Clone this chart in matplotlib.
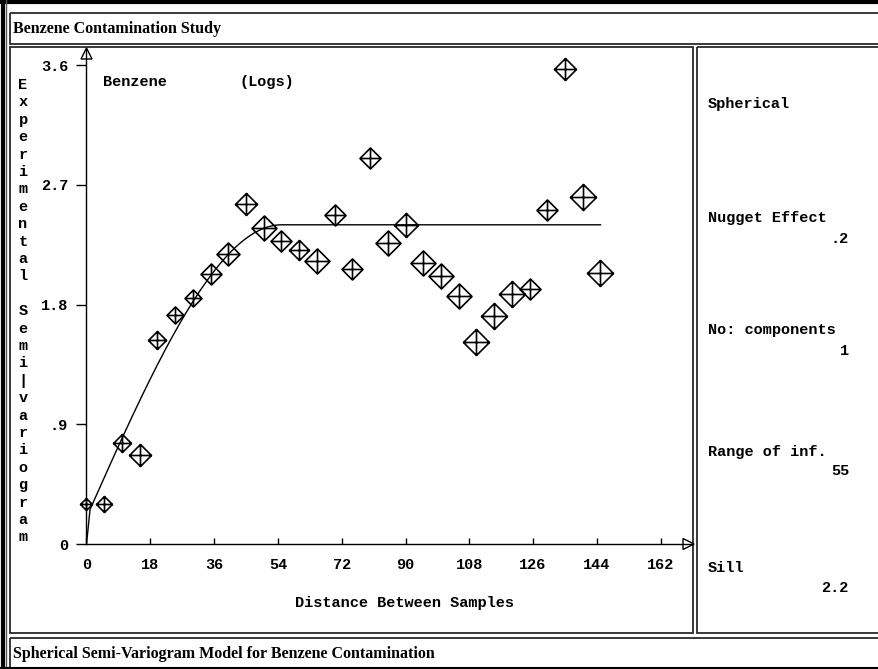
import numpy as np
import matplotlib
matplotlib.use("Agg")
import matplotlib.pyplot as plt
from matplotlib.path import Path
from matplotlib.patches import Rectangle, Polygon

# ---------------- data ----------------
lags = [0, 5, 10, 15, 20, 25, 30, 35, 40, 45, 50, 55, 60, 65, 70, 75,
        80, 85, 90, 95, 100, 105, 110, 115, 120, 125, 130, 135, 140, 145]
gamma = [0.30, 0.30, 0.76, 0.67, 1.535, 1.72, 1.85, 2.03, 2.18, 2.557,
         2.377, 2.28, 2.21, 2.13, 2.476, 2.065, 2.90, 2.263, 2.395, 2.116,
         2.017, 1.865, 1.52, 1.718, 1.882, 1.915, 2.509, 3.569, 2.608, 2.034]
# marker heights (pixels) as seen on the chart
marker_px = [12, 16, 18, 22, 18, 17, 17, 21, 23, 22, 25, 21, 20, 25, 21,
             21, 21, 25, 24, 25, 25, 25, 26, 26, 26, 21, 21, 22, 26, 26]

xticks = [0, 18, 36, 54, 72, 90, 108, 126, 144, 162]
yticks = [0, 0.9, 1.8, 2.7, 3.6]
ytick_labels = ["0", ".9", "1.8", "2.7", "3.6"]

model_name = "Spherical"
nugget = 0.2
sill = 2.2
range_inf = 55
n_components = 1
model_max_lag = 145

# spherical model defined by the displayed parameters
h = np.arange(0, model_max_lag + 1, 1.0)
hr = np.minimum(h / range_inf, 1.0)
model = nugget + sill * (1.5 * hr - 0.5 * hr ** 3)
model[0] = 0.0

# ---------------- figure ----------------
W, H = 879, 669
fig = plt.figure(figsize=(W / 100, H / 100), dpi=100)
fig.patch.set_facecolor("white")

bg = fig.add_axes([0, 0, 1, 1])
bg.set_xlim(0, W)
bg.set_ylim(H, 0)
bg.axis("off")

mono = dict(family="Liberation Mono", weight="bold", color="black")
serif = dict(family="Liberation Serif", weight="bold", color="black")
edge = "#2a2a2a"

# outer borders
bg.plot([0, W], [1.5, 1.5], color="black", lw=3.0, solid_capstyle="butt")
bg.plot([3, 3], [0, H], color="black", lw=3.0, solid_capstyle="butt")
bg.plot([6.5, 6.5], [0, H], color="#555555", lw=1.0)
bg.plot([0, W], [668, 668], color="black", lw=1.5)

# boxes
for (x0, y0, x1, y1) in [(10, 13, W + 2, 44), (10, 47, 693, 633),
                         (697, 47, W + 2, 633), (10, 638, W + 2, 668)]:
    bg.add_patch(Rectangle((x0, y0), x1 - x0, y1 - y0, fill=False,
                           edgecolor=edge, lw=1.3))

bg.text(13, 29, "Benzene Contamination Study", fontsize=11.5,
        ha="left", va="center", **serif)
bg.text(13, 654, "Spherical Semi-Variogram Model for Benzene Contamination",
        fontsize=11.5, ha="left", va="center", **serif)

# stacked y label
ylabel = "Experimental Semi|variogram"
for i, ch in enumerate(ylabel):
    if ch != " ":
        bg.text(23, 85 + i * 17.4, ch, fontsize=11, ha="center",
                va="center", **mono)

# top labels inside plot
bg.text(103, 82, "Benzene", fontsize=11, ha="left", va="center", **mono)
bg.text(240, 82, "(Logs)", fontsize=11, ha="left", va="center", **mono)
bg.text(405, 603, "Distance Between Samples", fontsize=11,
        ha="center", va="center", **mono)

# right panel
rx, vx = 708, 849
bg.text(rx, 104, model_name, fontsize=11, ha="left", va="center", **mono)
bg.text(rx, 218, "Nugget Effect", fontsize=11, ha="left", va="center", **mono)
bg.text(vx, 239, f"{nugget}".lstrip("0"), fontsize=11, ha="right",
        va="center", **mono)
bg.text(rx, 330, "No: components", fontsize=11, ha="left", va="center", **mono)
bg.text(vx, 351, f"{n_components}", fontsize=11, ha="right", va="center",
        **mono)
bg.text(rx, 452, "Range of inf.", fontsize=11, ha="left", va="center", **mono)
bg.text(vx, 471, f"{range_inf}", fontsize=11, ha="right", va="center", **mono)
bg.text(rx, 568, "Sill", fontsize=11, ha="left", va="center", **mono)
bg.text(vx, 588, f"{sill}", fontsize=11, ha="right", va="center", **mono)

# ---------------- main axes ----------------
px_per_x = (660.7 - 86.5) / 162.0
px_per_y = (544 - 424.3) / 0.9
ax_l, ax_r, ax_b, ax_t = 86.5, 693, 544, 49
ax = fig.add_axes([ax_l / W, (H - ax_b) / H, (ax_r - ax_l) / W,
                   (ax_b - ax_t) / H])
ax.set_facecolor("none")
ax.set_xlim(0, (ax_r - ax_l) / px_per_x)
ax.set_ylim(0, (ax_b - ax_t) / px_per_y)
for s in ["top", "right"]:
    ax.spines[s].set_visible(False)
for s in ["left", "bottom"]:
    ax.spines[s].set_linewidth(1.0)
    ax.spines[s].set_color("black")

ax.set_xticks(xticks)
ax.set_xticklabels([str(t) for t in xticks])
ax.set_yticks(yticks)
ax.set_yticklabels(ytick_labels)
ax.tick_params(axis="x", direction="in", length=4.5, width=1.0, pad=10)
ax.tick_params(axis="y", direction="out", length=7.2, width=1.0, pad=6)
for lab in ax.get_xticklabels() + ax.get_yticklabels():
    lab.set_fontfamily("Liberation Mono")
    lab.set_fontweight("bold")
    lab.set_fontsize(11)

# model line
ax.plot(h, model, color="black", lw=1.0, zorder=2)

# markers: diamond with a cross
verts = [(0, 1), (1, 0), (0, -1), (-1, 0), (0, 1),
         (0, 1), (0, -1), (-1, 0), (1, 0)]
codes = [Path.MOVETO, Path.LINETO, Path.LINETO, Path.LINETO, Path.CLOSEPOLY,
         Path.MOVETO, Path.LINETO, Path.MOVETO, Path.LINETO]
dmark = Path(verts, codes)
for x, y, s in zip(lags, gamma, marker_px):
    ax.plot([x], [y], ls="none", marker=dmark, ms=s * 0.72,
            mfc="none", mec="black", mew=1.2, zorder=3, clip_on=False)

# axis arrowheads (pixel coords)
bg.add_patch(Polygon([(81, 59), (92, 59), (86.5, 48)], closed=True,
                     facecolor="white", edgecolor="black", lw=1.0, zorder=5))
bg.add_patch(Polygon([(683, 538.5), (683, 549.5), (694, 544)], closed=True,
                     facecolor="white", edgecolor="black", lw=1.0, zorder=5))

fig.savefig("out.png", dpi=100)
